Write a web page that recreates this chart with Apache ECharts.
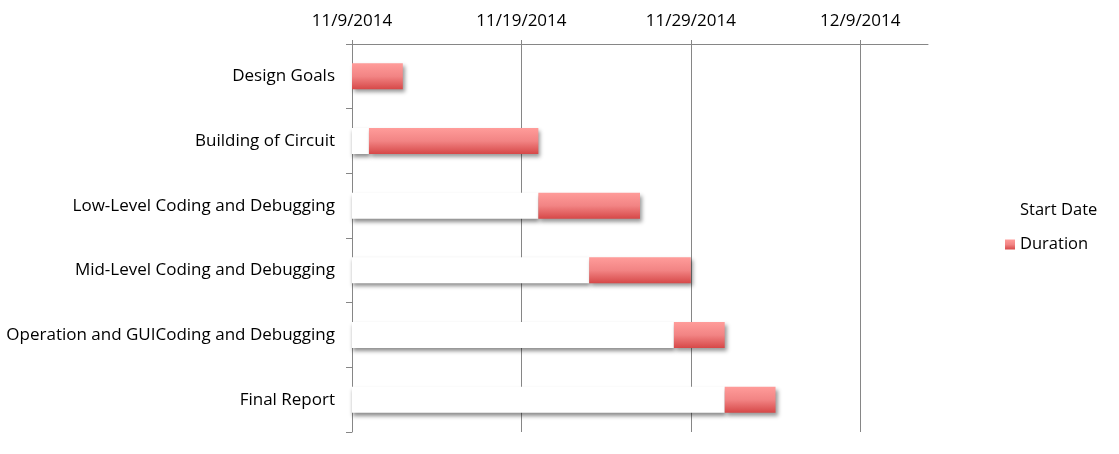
<!DOCTYPE html>
<html>
<head>
<meta charset="utf-8">
<script src="https://cdn.jsdelivr.net/npm/echarts@6/dist/echarts.min.js"></script>
<style>html,body{margin:0;padding:0;background:#fff;}#c{width:1119px;height:454px;}</style>
</head>
<body>
<div id="c"></div>
<script>
const categories = ['Design Goals','Building of Circuit','Low-Level Coding and Debugging','Mid-Level Coding and Debugging','Operation and GUICoding and Debugging','Final Report'];
const startOffsetDays = [0, 1, 11, 14, 19, 22];
const durationDays = [3, 10, 6, 6, 3, 3];
const baseDate = [2014, 11, 9];
const seriesNames = ['Start Date', 'Duration'];

function fmt(v) {
  const d = new Date(baseDate[0], baseDate[1] - 1, baseDate[2] + v);
  return (d.getMonth() + 1) + '/' + d.getDate() + '/' + d.getFullYear();
}
const font = '"Open Sans", "Noto Sans", sans-serif';
const chart = echarts.init(document.getElementById('c'), null, {renderer: 'canvas'});
chart.setOption({
  animation: false,
  backgroundColor: '#fff',
  grid: {left: 352, right: 191, top: 44, bottom: 22, containLabel: false},
  legend: {
    orient: 'vertical', left: 1000, top: 197, itemWidth: 10, itemHeight: 10, itemGap: 17,
    textStyle: {fontFamily: font, fontSize: 16.5, color: '#000'},
    data: [
      {name: seriesNames[0], icon: 'rect', itemStyle: {color: 'rgba(255,255,255,0)', shadowBlur: 0, shadowColor: 'transparent'}},
      {name: seriesNames[1], icon: 'rect', itemStyle: {shadowBlur: 0, shadowColor: 'transparent'}}
    ]
  },
  xAxis: {
    type: 'value', position: 'top', min: 0, max: 34, interval: 10,
    axisLine: {show: true, lineStyle: {color: '#868686', width: 1}},
    axisTick: {show: true, length: 4, lineStyle: {color: '#868686'}},
    splitLine: {show: true, showMaxLine: false, lineStyle: {color: '#868686', width: 1}},
    axisLabel: {formatter: fmt, fontFamily: font, fontSize: 17, color: '#000', margin: 14, showMaxLabel: false}
  },
  yAxis: {
    type: 'category', inverse: true, data: categories,
    axisLine: {show: true, lineStyle: {color: '#868686'}},
    axisTick: {show: true, length: 6, lineStyle: {color: '#868686'}},
    axisLabel: {fontFamily: font, fontSize: 17, color: '#000', margin: 17}
  },
  series: [
    {
      name: seriesNames[0], type: 'bar', stack: 'g', data: startOffsetDays, barWidth: 26,
      itemStyle: {color: '#fff', shadowBlur: 4, shadowOffsetX: 1, shadowOffsetY: 3, shadowColor: 'rgba(0,0,0,0.45)'},
      z: 2
    },
    {
      name: seriesNames[1], type: 'bar', stack: 'g', data: durationDays, barWidth: 26,
      itemStyle: {
        color: new echarts.graphic.LinearGradient(0, 0, 0, 1, [
          {offset: 0, color: '#FF9C9A'}, {offset: 0.5, color: '#F28484'}, {offset: 1, color: '#D64848'}
        ]),
        shadowBlur: 4, shadowOffsetX: 2, shadowOffsetY: 3, shadowColor: 'rgba(0,0,0,0.4)'
      },
      z: 3
    }
  ]
});
</script>
</body>
</html>
